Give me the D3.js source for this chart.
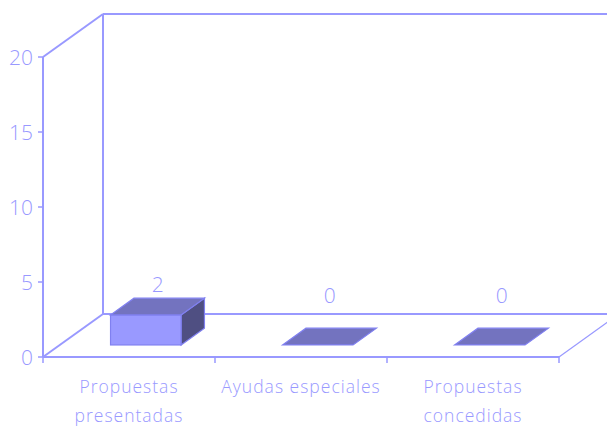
<!DOCTYPE html>
<html><head><meta charset="utf-8">
<script src="https://cdn.jsdelivr.net/npm/d3@7"></script>
<style>
html,body{margin:0;padding:0;background:#fff;}
svg text{font-family:"Open Sans";font-weight:300;fill:#9999ff;}
</style></head>
<body><svg id="c" width="607" height="427"></svg>
<script>
const categories = [["Propuestas","presentadas"],["Ayudas especiales"],["Propuestas","concedidas"]];
const values = [2, 0, 0];
const yTicks = [0, 5, 10, 15, 20];

const svg = d3.select("#c");
const axisColor = "#9999ff";
const D = {dx: 60, dy: -43};
const f0 = 0.28, f1 = 0.67;
const keys = categories.map(c => c.join(" "));
const x = d3.scaleBand().domain(keys).range([43, 559]).padding(0);
const y = d3.scaleLinear().domain([0, 20]).range([357, 57]);
const x0 = x.range()[0], x1 = x.range()[1];
const yTop = y(20), yBot = y(0);

const g = svg.append("g");
const line = (a,b,c,d,w) => g.append("line").attr("x1",a).attr("y1",b).attr("x2",c).attr("y2",d)
  .attr("stroke",axisColor).attr("stroke-width",w||2);

// walls
line(x0 + D.dx, yTop + D.dy, x0 + D.dx, yBot + D.dy);
line(x0 + D.dx, yTop + D.dy, x1 + D.dx + 50, yTop + D.dy);
line(x0 + D.dx, yBot + D.dy, x1 + D.dx + 50, yBot + D.dy);
line(x0, yTop, x0 + D.dx, yTop + D.dy);
line(x0, yBot, x0 + D.dx, yBot + D.dy);
line(x1, yBot, x1 + D.dx, yBot + D.dy, 1.2);
line(x0, yTop, x0, yBot);
line(x0, yBot, x1, yBot);

// y ticks
yTicks.forEach(t => {
  line(x0 - 5, y(t), x0, y(t), 1.5);
  g.append("text").attr("x", x0 - 10).attr("y", y(t) + 8).attr("text-anchor","end")
    .attr("font-size", 21).text(t);
});
// x ticks
const bounds = keys.map(k => x(k)).concat([x1]);
bounds.forEach(b => line(b, yBot, b, yBot + 6, 1.5));

// bars
const bw = x.bandwidth() * 0.41;
keys.forEach((k, i) => {
  const v = values[i];
  const cx = x(k) + x.bandwidth()/2;
  const fx = cx - bw/2 + D.dx*f0, fy = D.dy*f0;
  const bx = D.dx*(f1 - f0), by = D.dy*(f1 - f0);
  const yb = y(0) + fy, yt = y(v) + fy;
  const X0 = fx, X1 = fx + bw;
  const stroke = "#8080f0";
  if (v > 0) {
    g.append("polygon").attr("points", [[X1,yt],[X1+bx,yt+by],[X1+bx,yb+by],[X1,yb]].join(" "))
      .attr("fill","#4f4f82").attr("stroke",stroke).attr("stroke-width",1.2);
    g.append("rect").attr("x",X0).attr("y",yt).attr("width",bw).attr("height",yb-yt)
      .attr("fill","#9999ff").attr("stroke",stroke).attr("stroke-width",1.2);
  }
  g.append("polygon").attr("points", [[X0,yt],[X0+bx,yt+by],[X1+bx,yt+by],[X1,yt]].join(" "))
    .attr("fill","#7373bf").attr("stroke",stroke).attr("stroke-width",1.2);
  const backTop = yt + by;
  g.append("text").attr("x", cx + D.dx*0.48).attr("y", Math.min(backTop - 6, y(0) - 54))
    .attr("text-anchor","middle").attr("font-size",21).text(v);
  // category label
  categories[i].forEach((ln, j) => {
    g.append("text").attr("x", cx).attr("y", 393 + j*29).attr("text-anchor","middle")
      .attr("font-size",17.5).attr("letter-spacing","1px").text(ln);
  });
});
</script></body></html>
